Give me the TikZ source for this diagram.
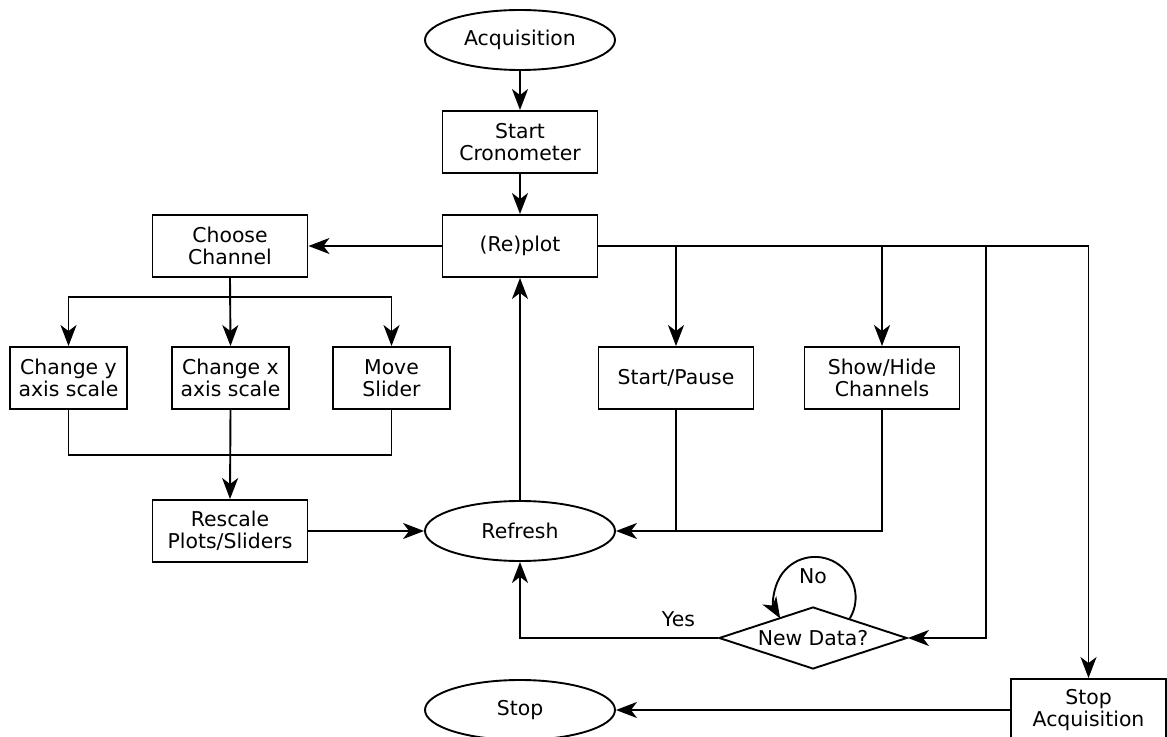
\documentclass[tikz,border=0pt]{standalone}
\usepackage{fontspec}
\setmainfont{DejaVu Sans}
\usetikzlibrary{arrows.meta,shapes.geometric}

\begin{document}
\begin{tikzpicture}[x=0.5pt,y=-0.5pt,line width=0.95pt,
  font=\fontsize{10.2pt}{11pt}\selectfont,
  box/.style={draw,align=center,minimum width=77.5pt,minimum height=31pt,inner sep=0pt},
  sbox/.style={box,minimum width=58.5pt},
  term/.style={draw,ellipse,minimum width=95pt,minimum height=30pt,inner sep=0pt},
  decide/.style={draw,diamond,aspect=3,minimum width=94pt,minimum height=31pt,inner sep=0pt},
  arr/.style={-{Stealth[length=10.5pt,width=8pt,inset=3pt]}}]
  \useasboundingbox (0,0) rectangle (1167,737);

   \node[term] (acq) at (520,40) {Acquisition};
   \node[box] (crono) at (520,142) {Start\\Cronometer};
   \node[box] (replot) at (520,246) {(Re)plot};
   \node[box] (choose) at (230,246) {Choose\\Channel};
    \node[sbox] (chy) at (68.5,378) {Change y\\axis scale};
    \node[sbox] (chx) at (230.5,378) {Change x\\axis scale};
    \node[sbox] (slider) at (391.5,378) {Move\\Slider};
   \node[box] (rescale) at (230,531) {Rescale\\Plots/Sliders};
   \node[term] (refresh) at (520,531) {Refresh};
   \node[box] (startpause) at (676,378) {Start/Pause};
   \node[box] (showhide) at (882,378) {Show/Hide\\Channels};
   \node[decide] (newdata) at (813,638) {New Data?};
   \node[box] (stopacq) at (1088.5,710) {Stop\\Acquisition};
   \node[term] (stop) at (520,710) {Stop};

   \coordinate (split) at (230,297);
   \coordinate (merge) at (230,455);
   \coordinate (tap) at (986,246);

     \draw[arr] (acq) -- (crono);
     \draw[arr] (crono) -- (replot);
     \draw[arr] (replot) -- (choose);
     \draw[arr] (choose.south) -- (chx.north);
     \draw[arr] (split) -| (chy.north);
     \draw[arr] (split) -| (slider.north);
     \draw (chy.south) |- (slider.south |- merge) -- (slider.south);
     \draw[arr] (chx.south) -- (rescale.north);
     \draw[arr] (rescale) -- (refresh);
     \draw[arr] (refresh) -- (replot);

     \draw[arr] (replot.east) -| (stopacq.north);
     \draw[arr] (startpause.north |- replot.east) -- (startpause.north);
     \draw[arr] (showhide.north |- replot.east) -- (showhide.north);
     \draw[arr] (tap) |- (newdata.east);
     \draw[arr] (startpause.south) |- (refresh.east);
     \draw (showhide.south) |- (startpause.south |- refresh.east);

     \draw[arr] (newdata.west) -| node[pos=0.1,above=2pt] {Yes} (refresh.south);
     \draw[arr] (newdata.28) arc[start angle=-31,end angle=211,radius=20.3pt];
     \node (no) at (813,576) {No};
     \draw[arr] (stopacq) -- (stop);

\end{tikzpicture}
\end{document}
